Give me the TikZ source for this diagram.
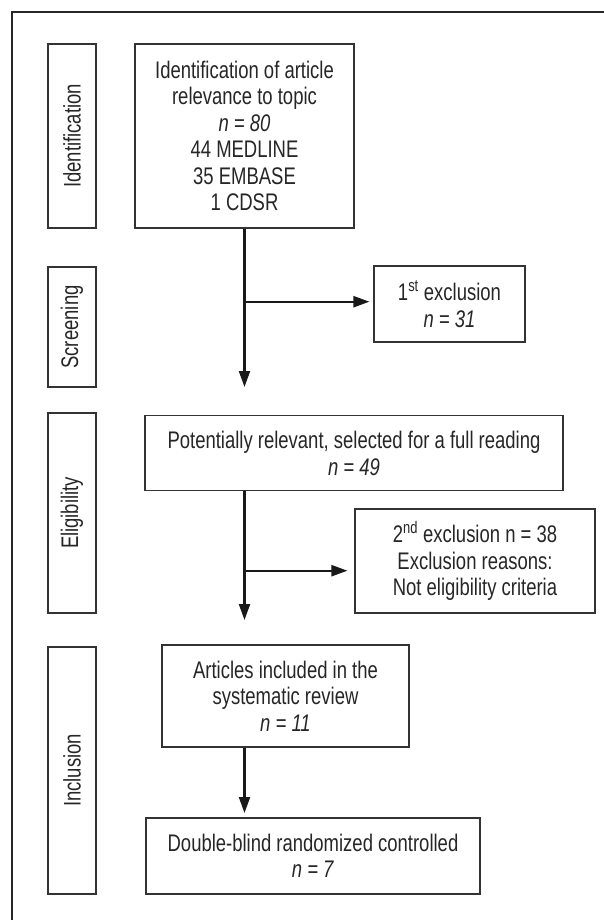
\documentclass[tikz,border=0pt]{standalone}
\usepackage{fontspec}
\setmainfont{Liberation Sans}[FakeStretch=0.77]
\usetikzlibrary{arrows.meta}

\begin{document}
\begin{tikzpicture}[x=1pt,y=-1pt,
		box/.style={draw=black!80,line width=1.1pt,align=center,inner sep=0pt,text=black!85,font=\fontsize{24}{26.5}\selectfont},
		stage/.style={box,rotate=90,minimum height=48pt},
		arr/.style={line width=2.2pt,draw=black!90,-{Triangle[length=16pt,width=11pt]}}]
				
				\useasboundingbox (0,0) rectangle (603,920);
				
				% moldura
				\draw[line width=2.5pt,black!85] (12,935) -- (12,12) -- (620,12);
				
				% fases
				\node[stage,minimum width=184pt] (sident) at (72,136) {Identification};
				\node[stage,minimum width=120pt] (sscreen) at (72,327) {Screening};
				\node[stage,minimum width=200pt] (selig) at (72,513) {Eligibility};
				\node[stage,minimum width=247pt] (sincl) at (72,770.5) {Inclusion};
				
				% caixas
				\node[box,minimum width=219pt,minimum height=184pt] (ident) at (244.5,136) {Identification of article\\relevance to topic\\\textit{n = 80}\\44 MEDLINE\\35 EMBASE\\1 CDSR};
				\node[box,minimum width=151pt,minimum height=76pt] (excl1) at (449.5,304) {1\textsuperscript{st} exclusion\\\textit{n = 31}};
				\node[box,minimum width=418pt,minimum height=75pt] (pot) at (354,453.3) {Potentially relevant, selected for a full reading\\\textit{n = 49}};
				\node[box,minimum width=240pt,minimum height=104pt] (excl2) at (475,561) {2\textsuperscript{nd} exclusion n = 38\\Exclusion reasons:\\Not eligibility criteria};
				\node[box,minimum width=247pt,minimum height=102pt] (art) at (285.5,696) {Articles included in the\\systematic review\\\textit{n = 11}};
				\node[box,minimum width=334pt,minimum height=76pt] (dbl) at (313,856) {Double-blind randomized controlled\\\textit{n = 7}};
				
				% setas
				\coordinate (t1) at (244.5,387);
				\coordinate (b1) at (244.5,301.7);
				\coordinate (t2) at (244.5,620);
				\coordinate (b2) at (244.5,570.7);
				\coordinate (t3) at (244.5,813);
				
				\draw[arr] (ident.south) -- (t1);
				\draw[arr,shorten >=4pt] (b1) -- (b1 -| excl1.west);
				\draw[arr] (t2 |- pot.south) -- (t2);
				\draw[arr,shorten >=7pt] (b2) -- (b2 -| excl2.west);
				\draw[arr] (t3 |- art.south) -- (t3);
				
			\end{tikzpicture}
\end{document}
